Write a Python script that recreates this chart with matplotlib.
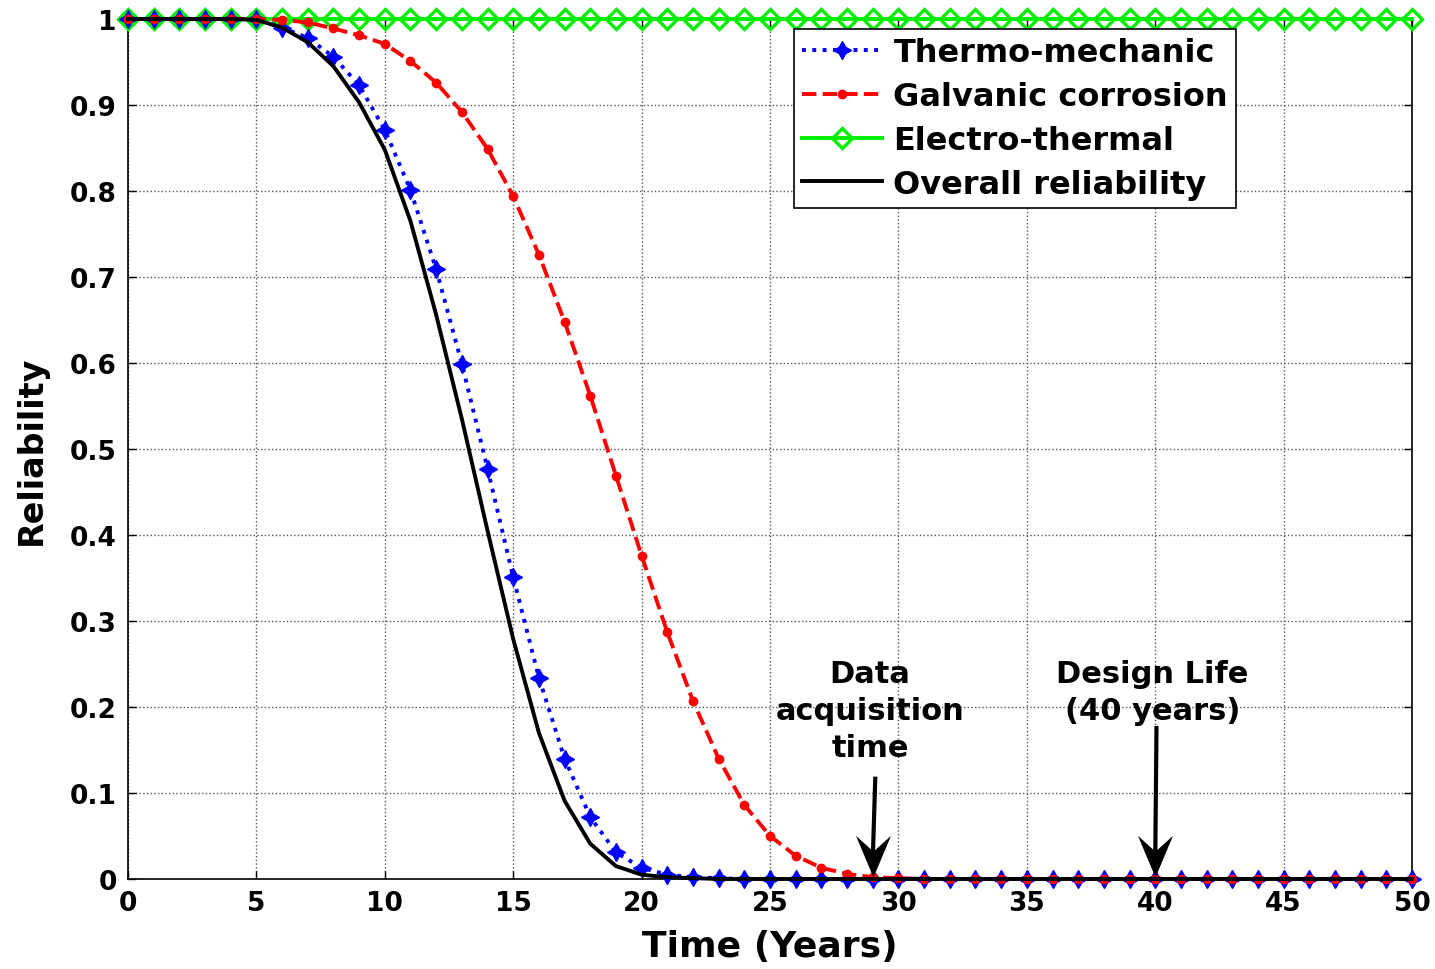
import matplotlib
matplotlib.use("Agg")
import matplotlib.pyplot as plt
from matplotlib.path import Path

years = list(range(0, 51))
thermo = [1, 1, 1, 1, 1, 1, 0.990, 0.978, 0.956, 0.923, 0.871, 0.801, 0.709, 0.599, 0.477,
          0.351, 0.234, 0.140, 0.072, 0.031, 0.013, 0.005, 0.002, 0.001] + [0] * 27
galvanic = [1, 1, 1, 1, 1, 1, 0.999, 0.996, 0.989, 0.981, 0.971, 0.951, 0.926, 0.892, 0.849,
            0.794, 0.726, 0.648, 0.562, 0.469, 0.376, 0.287, 0.207, 0.140, 0.086, 0.050,
            0.027, 0.013, 0.006, 0.002, 0.001] + [0] * 20
electro = [1] * 51
overall = [1, 1, 1, 1, 1, 0.999, 0.990, 0.973, 0.945, 0.903, 0.848, 0.765, 0.656, 0.535, 0.405,
           0.279, 0.170, 0.091, 0.041, 0.015, 0.005, 0.002, 0.001] + [0] * 28

legend_labels = ["Thermo-mechanic", "Galvanic corrosion", "Electro-thermal", "Overall reliability"]
x_ticks = list(range(0, 51, 5))
y_ticks = [0, 0.1, 0.2, 0.3, 0.4, 0.5, 0.6, 0.7, 0.8, 0.9, 1]
y_tick_labels = ["0", "0.1", "0.2", "0.3", "0.4", "0.5", "0.6", "0.7", "0.8", "0.9", "1"]

# annotations: (text, text x, arrow start (x, y), arrow tip (x, y))
annot_data = ("Data\nacquisition\ntime", 28.9, (29.1, 0.119), (29.0, 0.002))
annot_life = ("Design Life\n(40 years)", 39.9, (40.05, 0.178), (40.0, 0.002))

plt.rcParams['font.family'] = ['DejaVu Sans']
plt.rcParams['font.weight'] = 'bold'

fig = plt.figure(figsize=(14.35, 9.7), dpi=100)
ax = fig.add_axes([0.0892, 0.0928, 0.8948, 0.8866])

l1, = ax.plot(years, thermo, color='#0000ff', linestyle=':', linewidth=2.8, marker=(4, 1, 0),
              markersize=13, label=legend_labels[0], clip_on=False, zorder=4)
l2, = ax.plot(years, galvanic, color='#ff0000', linestyle='--', linewidth=2.8, marker='o',
              markersize=6, label=legend_labels[1], clip_on=False, zorder=5)
l3, = ax.plot(years, electro, color='#00ee00', linestyle='-', linewidth=2.8, marker='D',
              markersize=10, markerfacecolor='none', markeredgewidth=2.4,
              label=legend_labels[2], clip_on=False, zorder=3)
l4, = ax.plot(years, overall, color='black', linestyle='-', linewidth=2.8,
              label=legend_labels[3], clip_on=False, zorder=6)

ax.set_xlim(0, 50)
ax.set_ylim(0, 1)
ax.set_xticks(x_ticks)
ax.set_yticks(y_ticks)
ax.set_yticklabels(y_tick_labels)
ax.tick_params(direction='in', length=6, width=1, top=True, right=True, labelsize=19, pad=8)
for lab in ax.get_xticklabels() + ax.get_yticklabels():
    lab.set_fontweight('bold')
ax.grid(True, linestyle=':', color='#555555', linewidth=1)
for s in ax.spines.values():
    s.set_linewidth(1.2)

ax.set_xlabel("Time (Years)", fontsize=26, fontweight='bold', labelpad=9)
ax.set_ylabel("Reliability", fontsize=24, fontweight='bold', labelpad=16)

leg = ax.legend(handles=[l1, l2, l3, l4], loc='upper left', bbox_to_anchor=(0.519, 0.988),
                fontsize=23, frameon=True, fancybox=False, edgecolor='black',
                framealpha=1, handlelength=2.5, borderpad=0.25, labelspacing=0.4,
                handletextpad=0.35, borderaxespad=0)
leg.get_frame().set_linewidth(1.2)
for t in leg.get_texts():
    t.set_fontweight('bold')

# chevron arrow head marker (tip at origin, pointing down)
chevron = Path([(0, 0), (-0.42, 1.0), (0, 0.62), (0.42, 1.0), (0, 0)],
               [Path.MOVETO, Path.LINETO, Path.LINETO, Path.LINETO, Path.CLOSEPOLY])

for txt, tx, start, tip in (annot_data, annot_life):
    ax.text(tx, 0.256, txt, ha='center', va='top', fontsize=22,
            fontweight='bold', linespacing=1.35)
    ax.plot([start[0], tip[0]], [start[1], tip[1] + 0.02], color='black', linewidth=3,
            solid_capstyle='butt', zorder=8)
    ax.plot([tip[0]], [tip[1]], marker=chevron, markersize=60, color='black',
            markeredgewidth=0, linestyle='none', zorder=8, clip_on=False)

fig.savefig("out.png", dpi=100, facecolor='white')
